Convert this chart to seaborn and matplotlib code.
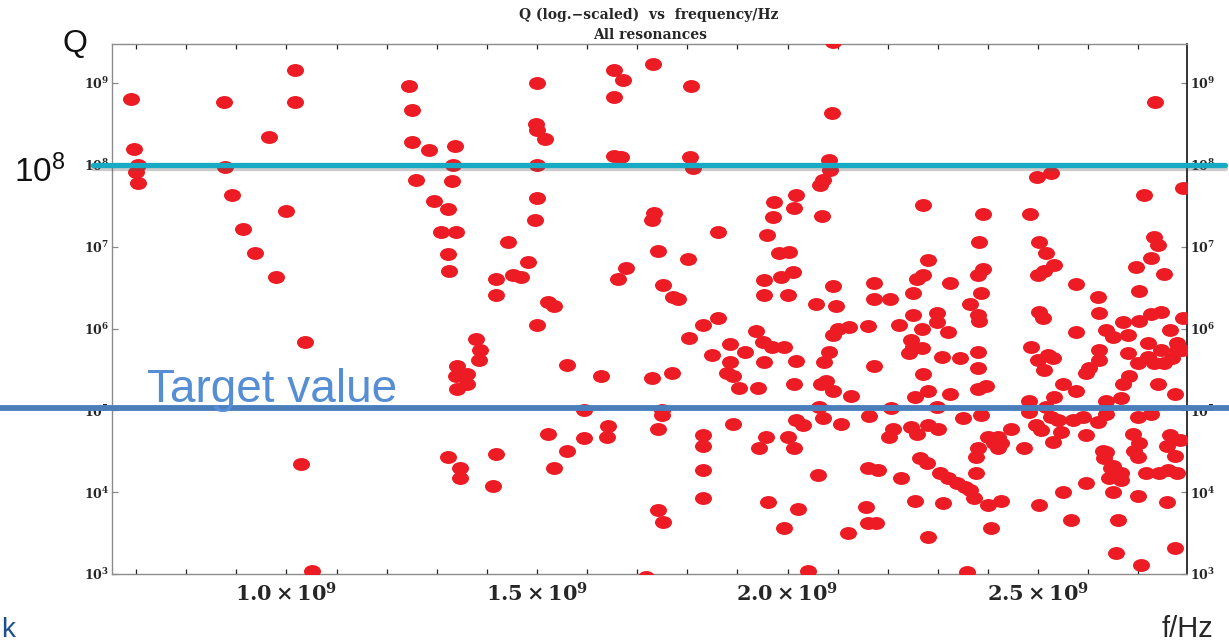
import numpy as np
import pandas as pd
import matplotlib
matplotlib.use("Agg")
import matplotlib.pyplot as plt
import matplotlib.patheffects as pe
from matplotlib.markers import MarkerStyle
from matplotlib.transforms import Affine2D
from matplotlib.ticker import MultipleLocator, NullLocator
import seaborn as sns

# resonances, frequency in GHz, Q as is
f_band1 = [0.689, 0.695, 0.703, 0.699, 0.703, 0.876, 0.878, 0.892, 0.914, 0.938,
           0.966, 0.980, 1.000, 1.018, 1.018, 1.038, 1.030, 1.052]
q_band1 = [6.3e8, 1.55e8, 1.0e8, 8.1e7, 6.0e7, 5.9e8, 9.4e7, 4.3e7, 1.65e7, 8.3e6,
           2.2e8, 4.3e6, 2.7e7, 1.45e9, 5.9e8, 6.8e5, 2.2e4, 1.1e3]

f_band2 = [1.244, 1.250, 1.251, 1.285, 1.259, 1.337, 1.333, 1.331, 1.295, 1.323,
           1.309, 1.339, 1.323, 1.325, 1.501, 1.499, 1.501, 1.515, 1.501, 1.501,
           1.497, 1.443, 1.483, 1.419, 1.453, 1.469, 1.419, 1.521, 1.533, 1.501,
           1.379, 1.387, 1.385, 1.341, 1.347, 1.361, 1.339, 1.361, 1.341, 1.559,
           1.593, 1.323, 1.347, 1.347, 1.419, 1.413, 1.521, 1.533, 1.559, 1.593]
q_band2 = [9.2e8, 4.7e8, 1.9e8, 1.5e8, 6.5e7, 1.7e8, 1.0e8, 6.3e7, 3.6e7, 2.9e7,
           1.5e7, 1.5e7, 8.1e6, 5.1e6, 1.0e9, 3.2e8, 2.7e8, 2.1e8, 1.0e8, 3.9e7,
           2.1e7, 1.15e7, 6.5e6, 4.0e6, 4.5e6, 4.3e6, 2.6e6, 2.1e6, 1.9e6, 1.1e6,
           7.4e5, 5.5e5, 4.1e5, 3.5e5, 2.8e5, 2.8e5, 2.6e5, 2.1e5, 1.8e5, 3.6e5,
           1.0e5, 2.7e4, 2.0e4, 1.5e4, 2.9e4, 1.2e4, 5.2e4, 1.95e4, 3.2e4, 4.6e4]

f_band3 = [1.627, 1.641, 1.639, 1.653, 1.671, 1.653, 1.731, 1.808, 1.653, 1.667,
           1.806, 1.812, 1.733, 1.729, 1.862, 1.972, 1.970, 1.958, 1.741, 1.802,
           1.677, 1.661, 1.982, 1.752, 1.772, 1.782, 1.952, 1.986, 1.952, 1.862,
           1.832, 1.804, 1.850, 1.886, 1.916, 1.938, 1.950, 1.968, 1.992, 1.886,
           1.880, 1.892, 1.904, 1.940, 1.952, 1.729, 1.770, 1.750, 1.750, 1.741,
           1.832, 1.832, 1.832, 1.832, 1.892, 1.956, 1.942, 1.960, 1.992, 1.741,
           1.752, 1.717]
q_band3 = [2.6e5, 6.4e4, 4.7e4, 1.45e9, 1.1e9, 6.7e8, 1.7e9, 9.2e8, 1.3e8, 1.26e8,
           1.26e8, 9.1e7, 2.6e7, 2.1e7, 1.5e7, 3.5e7, 2.3e7, 1.4e7, 8.9e6, 7.1e6,
           5.5e6, 4.0e6, 8.3e6, 3.4e6, 2.4e6, 2.3e6, 3.9e6, 4.3e6, 2.6e6, 1.35e6,
           1.1e6, 7.6e5, 4.7e5, 6.4e5, 5.1e5, 9.3e5, 6.8e5, 5.9e5, 5.9e5, 3.9e5,
           2.9e5, 2.6e5, 1.9e5, 1.9e5, 3.9e5, 2.5e5, 2.9e5, 1.0e5, 8.7e4, 6.0e4,
           5.0e4, 3.7e4, 1.85e4, 8.5e3, 6.9e4, 4.7e4, 3.5e4, 7.6e3, 3.6e3, 6.0e3,
           4.3e3, 9.2e2]

f_band4 = [2.000, 2.002, 2.010, 2.016, 2.012, 2.016, 2.012, 2.000, 2.012, 2.016,
           2.030, 2.020, 2.040, 2.056, 2.060, 2.090, 2.088, 2.082, 2.084, 2.070,
           2.064, 2.068, 2.271, 2.389, 2.381, 2.281, 2.389, 2.379, 2.271, 2.259,
           2.251, 2.325, 2.172, 2.090, 2.096, 2.172, 2.204, 2.385, 2.365, 2.379,
           2.381, 2.251, 2.299, 2.222, 2.299, 2.269, 2.321, 2.160, 2.122, 2.100,
           2.090, 2.246, 2.251, 2.242, 2.269, 2.082, 2.072, 2.172, 2.309, 2.345,
           2.379, 2.379, 2.271, 2.066, 2.076, 2.090, 2.126, 2.255, 2.281, 2.325,
           2.379, 2.395, 2.206, 2.299, 2.062, 2.070, 2.106, 2.162, 2.210, 2.202,
           2.246, 2.259, 2.281, 2.301, 2.351, 2.385, 2.399, 2.411, 2.379, 2.375,
           2.265, 2.279, 2.160, 2.180, 2.226, 2.305, 2.321, 2.339, 2.355, 2.375,
           2.365, 2.255, 2.311, 2.371, 2.399, 2.156, 2.160, 2.176, 2.120, 2.281,
           2.405, 2.359, 2.419, 2.419]
q_band4 = [2.6e6, 8.6e6, 4.9e6, 4.3e7, 3.0e7, 4.0e5, 2.1e5, 4.7e4, 3.5e4, 7.6e4,
           6.6e4, 6.3e3, 1.1e3, 2.0e6, 1.6e4, 3.2e9, 4.3e8, 1.15e8, 8.7e7, 6.5e7,
           5.6e7, 2.4e7, 3.2e7, 2.5e7, 1.15e7, 6.9e6, 5.4e6, 4.5e6, 4.5e6, 4.0e6,
           2.7e6, 3.6e6, 3.6e6, 3.3e6, 1.9e6, 2.3e6, 2.3e6, 2.7e6, 2.0e6, 1.45e6,
           1.25e6, 1.45e6, 1.55e6, 1.1e6, 1.2e6, 1.0e6, 9.1e5, 1.07e6, 1.05e6, 1.0e6,
           8.3e5, 7.2e5, 5.9e5, 5.0e5, 5.8e5, 5.1e5, 3.9e5, 3.5e5, 4.5e5, 4.4e5,
           5.1e5, 3.3e5, 2.8e5, 2.1e5, 2.3e5, 1.7e5, 1.5e5, 1.45e5, 1.7e5, 1.6e5,
           1.8e5, 2.0e5, 1.07e5, 1.1e5, 1.1e5, 8.0e4, 6.9e4, 8.5e4, 6.0e4, 4.7e4,
           6.2e4, 5.2e4, 6.6e4, 6.0e4, 8.0e4, 8.7e4, 4.7e4, 4.0e4, 3.5e4, 2.7e4,
           2.6e4, 2.3e4, 2.0e4, 1.85e4, 1.5e4, 1.7e4, 1.5e4, 1.3e4, 1.15e4, 1.7e4,
           1.05e4, 7.9e3, 7.3e3, 8.5e3, 6.9e3, 6.6e3, 4.2e3, 4.2e3, 3.2e3, 2.8e3,
           3.6e3, 1.05e3, 4.7e4, 3.5e4]

f_band5 = [2.497, 2.525, 2.711, 2.733, 2.790, 2.483, 2.501, 2.515, 2.531, 2.499,
           2.511, 2.575, 2.619, 2.621, 2.501, 2.509, 2.731, 2.739, 2.725, 2.695,
           2.751, 2.701, 2.790, 2.745, 2.725, 2.701, 2.575, 2.485, 2.499, 2.519,
           2.529, 2.511, 2.635, 2.669, 2.649, 2.679, 2.679, 2.621, 2.621, 2.719,
           2.719, 2.745, 2.764, 2.778, 2.778, 2.751, 2.768, 2.788, 2.731, 2.699,
           2.595, 2.549, 2.575, 2.601, 2.669, 2.681, 2.665, 2.739, 2.774, 2.635,
           2.481, 2.481, 2.531, 2.515,
           2.425, 2.425, 2.445, 2.471, 2.495, 2.505, 2.529, 2.525, 2.539, 2.545,
           2.569, 2.589, 2.619, 2.595, 2.635, 2.635, 2.649, 2.699, 2.725, 2.689,
           2.701, 2.691, 2.699, 2.764, 2.784, 2.758, 2.774, 2.760, 2.741, 2.778,
           2.629, 2.631, 2.645, 2.665, 2.641, 2.665, 2.715, 2.649, 2.595, 2.549,
           2.699, 2.758, 2.501, 2.565, 2.659, 2.655, 2.705, 2.774]
q_band5 = [7.1e7, 7.9e7, 4.3e7, 5.9e8, 5.2e7, 2.5e7, 1.15e7, 8.3e6, 6.0e6, 4.5e6,
           5.1e6, 3.5e6, 2.4e6, 1.55e6, 1.6e6, 1.35e6, 1.3e7, 1.05e7, 7.2e6, 5.6e6,
           4.7e6, 2.9e6, 1.35e6, 1.6e6, 1.5e6, 1.25e6, 9.1e5, 5.9e5, 4.1e5, 4.7e5,
           4.4e5, 3.1e5, 9.5e5, 1.2e6, 7.9e5, 8.3e5, 5.0e5, 5.5e5, 4.1e5, 6.6e5,
           4.5e5, 5.5e5, 9.5e5, 6.6e5, 5.5e5, 3.8e5, 4.4e5, 5.5e5, 3.8e5, 3.8e5,
           2.9e5, 2.1e5, 1.7e5, 3.3e5, 2.1e5, 2.6e5, 1.4e5, 2.1e5, 1.6e5, 1.3e5,
           1.3e5, 9.5e4, 1.45e5, 1.1e5,
           7.9e3, 4.0e4, 6.0e4, 3.5e4, 6.6e4, 5.7e4, 4.1e4, 8.3e4, 7.6e4, 5.4e4,
           7.6e4, 8.3e4, 7.2e4, 5.0e4, 9.1e4, 3.1e4, 2.1e4, 8.3e4, 9.1e4, 5.2e4,
           4.0e4, 3.2e4, 2.7e4, 5.0e4, 4.4e4, 3.7e4, 2.8e4, 1.85e4, 1.7e4, 1.7e4,
           3.2e4, 2.6e4, 1.95e4, 1.7e4, 1.5e4, 1.4e4, 1.7e4, 1.0e4, 1.3e4, 1.0e4,
           9.1e3, 7.6e3, 6.9e3, 4.6e3, 4.6e3, 1.8e3, 1.3e3, 2.1e3]

x_ticks = [1.0e9, 1.5e9, 2.0e9, 2.5e9]
x_tick_labels = [r"$1.0\times10^{9}$", r"$1.5\times10^{9}$",
                 r"$2.0\times10^{9}$", r"$2.5\times10^{9}$"]
y_ticks = [1e3, 1e4, 1e5, 1e6, 1e7, 1e8, 1e9]
y_tick_labels = [r"$10^{3}$", r"$10^{4}$", r"$10^{5}$", r"$10^{6}$",
                 r"$10^{7}$", r"$10^{8}$", r"$10^{9}$"]
q_marked = 1.0e8
q_target = 1.07e5

df = pd.DataFrame({
    "f": np.concatenate([f_band1, f_band2, f_band3, f_band4, f_band5]) * 1e9,
    "Q": np.concatenate([q_band1, q_band2, q_band3, q_band4, q_band5]),
})

sns.set_theme(style="white")
plt.rcParams["font.family"] = ["DejaVu Serif"]
plt.rcParams["mathtext.fontset"] = "dejavuserif"
plt.rcParams["mathtext.default"] = "bf"

W, H = 1229, 642
fig = plt.figure(figsize=(W / 100, H / 100), dpi=100)
ax = fig.add_axes([112 / W, 1 - 574 / H, 1075 / W, 530 / H])

oval = MarkerStyle("o", transform=Affine2D().scale(1.0, 0.76))
sns.scatterplot(data=df, x="f", y="Q", ax=ax, marker=oval, s=150,
                color="#ED1C24", linewidth=0, legend=False, zorder=3)

ax.set_yscale("log")
ax.set_xlim(0.652e9, 2.797e9)
ax.set_ylim(1e3, 3.0e9)
ax.set_xlabel("")
ax.set_ylabel("")

ax.set_xticks(x_ticks, x_tick_labels)
ax.xaxis.set_minor_locator(MultipleLocator(0.1e9))
ax.set_yticks(y_ticks, y_tick_labels)
ax.yaxis.set_minor_locator(NullLocator())

ax.tick_params(axis="x", which="both", direction="in", top=True, bottom=True,
               length=3.5, width=0.9, color="#222222", labelsize=15, pad=6)
ax.tick_params(axis="y", which="major", direction="in", left=True, right=True,
               labelleft=True, labelright=True, length=4, width=0.9,
               color="#888888", labelsize=9, pad=2)

for side in ["left", "top", "bottom"]:
    ax.spines[side].set_color("#8c8c8c")
    ax.spines[side].set_linewidth(1.0)
ax.spines["right"].set_color("#111111")
ax.spines["right"].set_linewidth(1.2)

# overlay lines from the slide
ax.axhline(q_marked, xmin=-0.018, xmax=1.035, color="#17AAC4", lw=3.8,
           clip_on=False, zorder=6,
           path_effects=[pe.SimpleLineShadow(offset=(0, -2), shadow_color="#555555", alpha=0.3),
                         pe.Normal()])
ax.axhline(q_target, xmin=-0.105, xmax=1.04, color="#4A7EBB", lw=4.2,
           clip_on=False, zorder=6)

# titles and slide annotations
fig.text(649 / W, 1 - 15 / H, "Q (log.\u2212scaled)  vs  frequency/Hz",
         ha="center", va="center", fontsize=10, fontweight="bold", family="DejaVu Serif")
fig.text(650 / W, 1 - 35 / H, "All resonances",
         ha="center", va="center", fontsize=10, fontweight="bold", family="DejaVu Serif")

fig.text(75 / W, 1 - 44 / H, "Q", ha="center", va="center",
         fontsize=23, family="Liberation Sans", color="#111111")
fig.text(14 / W, 1 - 182 / H, r"$\mathregular{10^{8}}$", ha="left", va="baseline",
         fontsize=24, family="Liberation Sans", color="#111111")
fig.text(147 / W, 1 - 402 / H, "Target value", ha="left", va="baseline",
         fontsize=33, family="Liberation Sans", color="#558ED5")
fig.text(1162 / W, 1 - 637 / H, "f/Hz", ha="left", va="baseline",
         fontsize=21, family="Liberation Sans", color="#262626")
fig.text(1 / W, 1 - 637 / H, "k", ha="left", va="baseline",
         fontsize=20, family="Liberation Sans", color="#1F4E8C")

fig.savefig("out.png", dpi=100)
